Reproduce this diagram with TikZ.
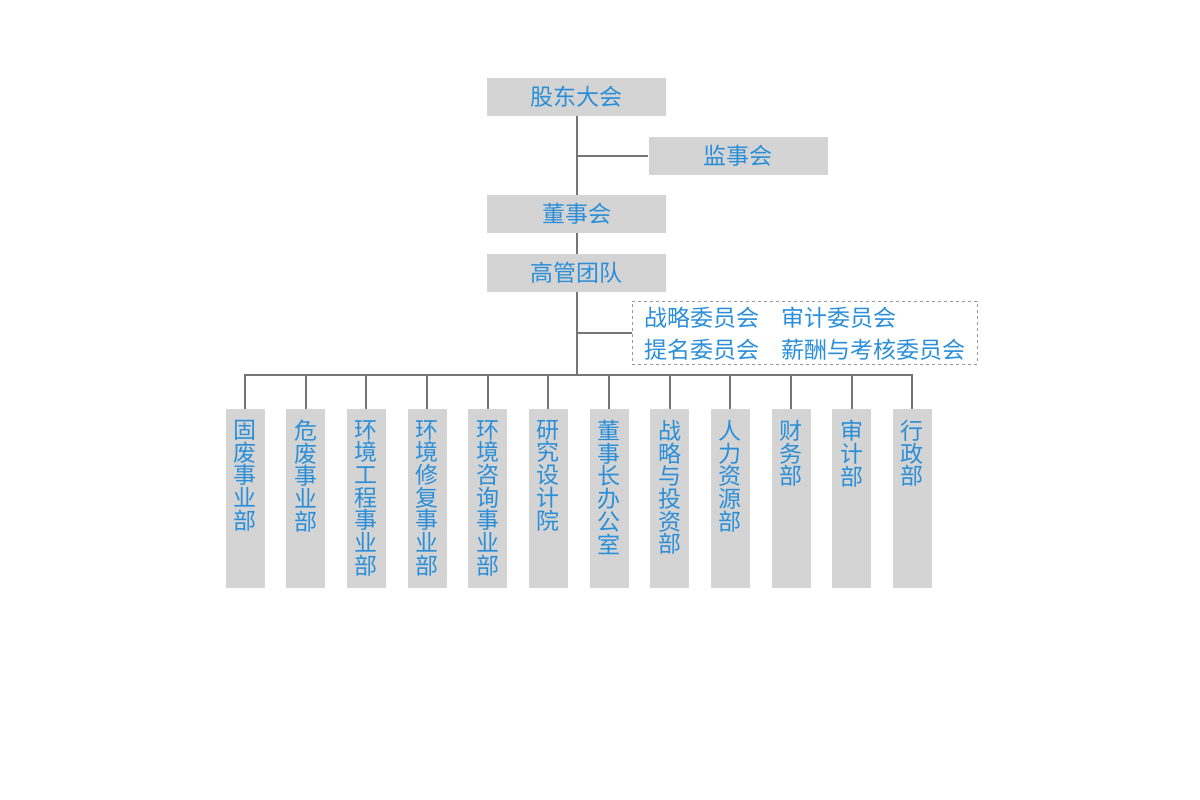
\documentclass[tikz,border=0pt]{standalone}
\usepackage{fontspec}
\newfontfamily\cjk{Noto Sans CJK SC}
\definecolor{txtblue}{HTML}{2A8FD8}
\definecolor{boxgray}{HTML}{D4D4D4}
\definecolor{linegray}{HTML}{757575}
\definecolor{dashgray}{HTML}{999999}
\begin{document}
\begin{tikzpicture}[x=1pt,y=-1pt,
  hbox/.style={fill=boxgray, minimum width=179pt, minimum height=38pt, inner sep=0pt,
    text=txtblue, font=\cjk\fontsize{23}{23}\selectfont},
  vbox/.style={fill=boxgray, minimum width=39pt, minimum height=179pt, inner sep=0pt, anchor=north},
  vtext/.style={anchor=north, inner sep=0pt, align=center, text=txtblue,
    font=\cjk\fontsize{23}{22.7}\selectfont},
  ctext/.style={anchor=west, inner sep=0pt, text=txtblue, font=\cjk\fontsize{23}{23}\selectfont},
  conn/.style={draw=linegray, line width=2pt},
  dashbox/.style={draw=dashgray, dashed, line width=0.9pt, minimum width=345pt, minimum height=63pt, inner sep=0pt}
]
\useasboundingbox (0,0) rectangle (1200,800);
\fill[white] (0,0) rectangle (1200,800);

\node[hbox] (gd) at (576.5,97) {股东大会};
\node[hbox] (js) at (738,156) {监事会};
\node[hbox] (dsh) at (576.5,214) {董事会};
\node[hbox] (gg) at (576.5,273) {高管团队};
\node[dashbox] (wy) at (804.5,332.5) {};
\node[ctext] (w1) at (644,318) {战略委员会};
\node[ctext] (w2) at (781,318) {审计委员会};
\node[ctext] (w3) at (644,350) {提名委员会};
\node[ctext] (w4) at (781,350) {薪酬与考核委员会};

\coordinate (bus) at (576.5,375);

\foreach \i/\x/\t in {1/245/{固\\废\\事\\业\\部},
  2/305.6/{危\\废\\事\\业\\部},
  3/366.3/{环\\境\\工\\程\\事\\业\\部},
  4/427/{环\\境\\修\\复\\事\\业\\部},
  5/487.6/{环\\境\\咨\\询\\事\\业\\部},
  6/548.3/{研\\究\\设\\计\\院},
  7/609/{董\\事\\长\\办\\公\\室},
  8/669.6/{战\\略\\与\\投\\资\\部},
  9/730.3/{人\\力\\资\\源\\部},
  10/791/{财\\务\\部},
  11/851.6/{审\\计\\部},
  12/912.3/{行\\政\\部}}{
  \node[vbox] (c\i) at (\x,409) {};
  \node[vtext] (t\i) at (\x,420) {\t};
}

\draw[conn] (gd.south) -- (dsh.north);
\draw[conn] (gd.south |- js.west) -- (js.west);
\draw[conn] (dsh.south) -- (gg.north);
\draw[conn] (gg.south) -- (bus);
\draw[conn] (gg.south |- wy.west) -- (wy.west);
\draw[conn] (c1.north) -- (c1.north |- bus) -- (c12.north |- bus) -- (c12.north);
\foreach \i in {2,...,11}{
  \draw[conn] (c\i.north |- bus) -- (c\i.north);
}
\end{tikzpicture}
\end{document}
